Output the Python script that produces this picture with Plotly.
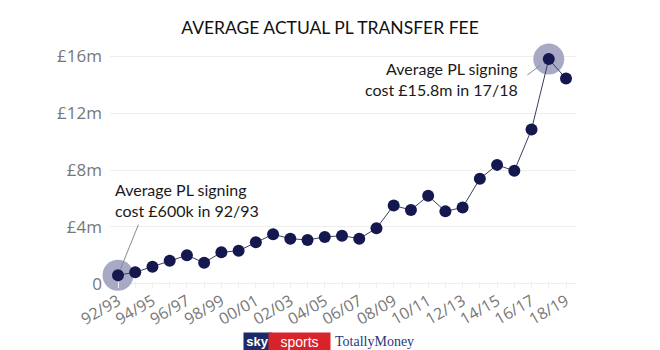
import plotly.graph_objects as go

seasons = ["92/93", "93/94", "94/95", "95/96", "96/97", "97/98", "98/99", "99/00",
           "00/01", "01/02", "02/03", "03/04", "04/05", "05/06", "06/07", "07/08",
           "08/09", "09/10", "10/11", "11/12", "12/13", "13/14", "14/15", "15/16",
           "16/17", "17/18", "18/19"]
avg_fee_m = [0.6, 0.81, 1.2, 1.62, 2.0, 1.48, 2.21, 2.32, 2.91, 3.48, 3.17, 3.08,
             3.29, 3.38, 3.17, 3.9, 5.51, 5.18, 6.19, 5.09, 5.37, 7.38, 8.36, 7.94,
             10.85, 15.8, 14.43]
highlight_idx = [0, 25]
y_tickvals = [0, 4, 8, 12, 16]
y_ticktext = ["0", "£4m", "£8m", "£12m", "£16m"]
x_ticktext = [s if i % 2 == 0 else "" for i, s in enumerate(seasons)]

NAVY = "#15174f"
HALO = "#a8aac5"
FONT = "Lato"
TICKFONT = "Open Sans"

fig = go.Figure()
fig.add_trace(go.Scatter(
    x=[seasons[i] for i in highlight_idx],
    y=[avg_fee_m[i] for i in highlight_idx],
    mode="markers",
    marker=dict(size=31, color=HALO, line=dict(width=0)),
    cliponaxis=False, hoverinfo="skip", showlegend=False))
fig.add_trace(go.Scatter(
    x=seasons, y=avg_fee_m, mode="lines+markers",
    line=dict(color="#3b3d5e", width=1),
    marker=dict(size=12, color=NAVY, line=dict(width=0)),
    cliponaxis=False, showlegend=False))

# callout connectors
fig.add_annotation(x=seasons[0], y=avg_fee_m[0], text="", showarrow=True,
                   arrowhead=0, arrowwidth=1, arrowcolor="#8a8a8a",
                   ax=21, ay=-52, standoff=6)
fig.add_annotation(x=seasons[25], y=avg_fee_m[25], text="", showarrow=True,
                   arrowhead=0, arrowwidth=1, arrowcolor="#8a8a8a",
                   ax=-23, ay=17, standoff=11)
# callout texts
fig.add_annotation(xref="paper", yref="paper", x=0.006, y=0.375,
                   text="Average PL signing<br>cost £600k in 92/93",
                   showarrow=False, xanchor="left", yanchor="middle", align="left",
                   font=dict(family=FONT, size=16, color="#1a1a1a"))
fig.add_annotation(xref="paper", yref="paper", x=0.88, y=0.885,
                   text="Average PL signing<br>cost £15.8m in 17/18",
                   showarrow=False, xanchor="right", yanchor="middle", align="right",
                   font=dict(family=FONT, size=16, color="#1a1a1a"))
# logo
fig.add_annotation(xref="paper", yref="paper", x=0.3155, y=-0.187, text="<b>sky</b>",
                   showarrow=False, yanchor="top", xanchor="center",
                   bgcolor="#1d2a66", borderpad=1, width=25,
                   font=dict(family="Liberation Sans", size=13, color="white"))
fig.add_annotation(xref="paper", yref="paper", x=0.4067, y=-0.187, text="sports",
                   showarrow=False, yanchor="top", xanchor="center",
                   bgcolor="#d8232a", borderpad=1, width=59,
                   font=dict(family="Liberation Sans", size=14, color="white"))
fig.add_annotation(xref="paper", yref="paper", x=0.478, y=-0.187, text="TotallyMoney",
                   showarrow=False, yanchor="top", xanchor="left",
                   font=dict(family="Liberation Serif", size=14, color="#2b3878"))

fig.update_layout(
    width=660, height=350,
    margin=dict(l=110, r=84, t=52, b=62),
    paper_bgcolor="white", plot_bgcolor="white",
    title=dict(text="AVERAGE ACTUAL PL TRANSFER FEE", x=0.5, xanchor="center",
               xref="container", y=0.92, yanchor="middle",
               font=dict(family=FONT, size=17.5, color="#111111")),
    font=dict(family=FONT),
)
fig.update_xaxes(type="category", categoryorder="array", categoryarray=seasons,
                 range=[-0.464, 26.58],
                 tickmode="array", tickvals=seasons, ticktext=x_ticktext,
                 tickangle=-30, ticks="inside", ticklen=6, tickcolor="#eeeeee",
                 showgrid=False, showline=False, zeroline=False,
                 tickfont=dict(family=TICKFONT, size=16, color="#777777"))
fig.update_yaxes(range=[-0.3, 16.3], tickmode="array", tickvals=y_tickvals,
                 ticktext=y_ticktext, showgrid=True, gridcolor="#eeeeee", gridwidth=1,
                 zeroline=False, showline=False, ticks="", ticklabelstandoff=7,
                 tickfont=dict(family=TICKFONT, size=17, color="#777777"))

fig.write_html("out.html")
